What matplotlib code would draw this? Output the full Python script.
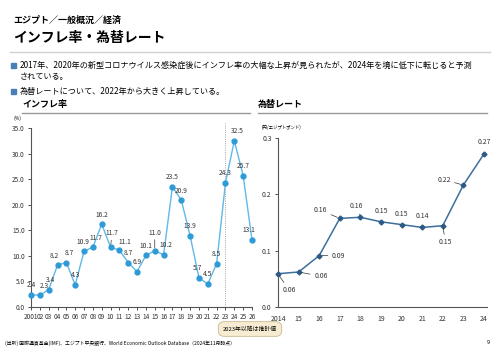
import matplotlib
matplotlib.use("Agg")
import matplotlib.pyplot as plt
from matplotlib.lines import Line2D
from matplotlib.patches import Rectangle

plt.rcParams['font.family'] = ['Noto Sans CJK JP', 'DejaVu Sans']

# インフレ率 (%)
years_inf = list(range(2001, 2027))
inflation = [2.4, 2.3, 3.4, 8.2, 8.7, 4.3, 10.9, 11.7, 16.2, 11.7, 11.1, 8.7, 6.9,
             10.1, 11.0, 10.2, 23.5, 20.9, 13.9, 5.7, 4.5, 8.5, 24.3, 32.5, 25.7, 13.1]
inf_ticklabels = ['2001'] + [f'{y % 100:02d}' for y in years_inf[1:]]

# 為替レート (円/エジプトポンド)
years_fx = list(range(2014, 2025))
fx_rate = [0.059, 0.062, 0.091, 0.157, 0.159, 0.151, 0.146, 0.141, 0.144, 0.216, 0.271]
fx_labels = ['0.06', '0.06', '0.09', '0.16', '0.16', '0.15', '0.15', '0.14', '0.15', '0.22', '0.27']
fx_ticklabels = ['2014'] + [f'{y % 100:02d}' for y in years_fx[1:]]

W, H = 500, 353
fig = plt.figure(figsize=(W / 100, H / 100), dpi=100)


def fx_(x):
    return x / W


def fy_(y):
    return 1 - y / H


# ヘッダー
fig.text(fx_(13), fy_(20), 'エジプト／一般概況／経済', fontsize=6.5, fontweight='bold', va='center')
fig.text(fx_(13), fy_(38), 'インフレ率・為替レート', fontsize=10, fontweight='bold', va='center')
fig.add_artist(Line2D([fx_(10), fx_(490)], [fy_(52), fy_(52)], color='#d0d0d0', lw=1))

bullet_c = '#4a7fb5'
for yy in (65, 91):
    fig.add_artist(Rectangle((fx_(11), fy_(yy + 3)), 5 / W, 5 / H, color=bullet_c))
fig.text(fx_(20), fy_(65), '2017年、2020年の新型コロナウイルス感染症後にインフレ率の大幅な上昇が見られたが、2024年を境に低下に転じると予測',
         fontsize=5.85, va='center')
fig.text(fx_(20), fy_(77), 'されている。', fontsize=5.85, va='center')
fig.text(fx_(20), fy_(91), '為替レートについて、2022年から大きく上昇している。', fontsize=5.85, va='center')

# セクション見出し
fig.text(fx_(22), fy_(104), 'インフレ率', fontsize=6.5, fontweight='bold', va='center')
fig.add_artist(Line2D([fx_(22), fx_(250)], [fy_(113), fy_(113)], color='#999999', lw=1))
fig.text(fx_(258), fy_(104), '為替レート', fontsize=6.5, fontweight='bold', va='center')
fig.add_artist(Line2D([fx_(258), fx_(487)], [fy_(113), fy_(113)], color='#999999', lw=1))

fig.text(fx_(13), fy_(118), '(%)', fontsize=3.5, va='center')
fig.text(fx_(262), fy_(127), '(円/エジプトポンド)', fontsize=3.2, va='center')

# ---- インフレ率 ----
ax1 = fig.add_axes([fx_(31), fy_(307), (252 - 31) / W, (307 - 128) / H])
ax1.plot(years_inf, inflation, color='#62b8e6', lw=1, marker='o', ms=3.5,
         mfc='#2e9ad6', mec='#2e9ad6', clip_on=False, zorder=3)
ax1.set_xlim(2001, 2026)
ax1.set_ylim(0, 35)
ax1.set_yticks([0, 5, 10, 15, 20, 25, 30, 35])
ax1.set_yticklabels([f'{v:.1f}' for v in [0, 5, 10, 15, 20, 25, 30, 35]])
ax1.set_xticks(years_inf)
ax1.set_xticklabels(inf_ticklabels)
ax1.tick_params(labelsize=4.7, length=2.5, width=0.6, pad=2, colors='#333333')
for s in ('top', 'right'):
    ax1.spines[s].set_visible(False)
for s in ('left', 'bottom'):
    ax1.spines[s].set_linewidth(0.8)
    ax1.spines[s].set_color('#555555')
ax1.axvline(2023, ymin=0, ymax=1.03, color='#888888', lw=0.6, ls=':', clip_on=False)

inf_off = {2001: (0, 4), 2002: (3, 4), 2003: (1, 4), 2004: (-2, 4), 2005: (2, 4),
           2006: (0, 4), 2007: (-1, 4), 2008: (2, 4), 2009: (0, 4), 2010: (1, 7),
           2011: (4, 3), 2012: (0, 4), 2013: (0, 4), 2014: (0, 4), 2015: (0, 10),
           2016: (2, 4), 2017: (0, 4), 2018: (0, 4), 2019: (0, 4), 2020: (-1, 4),
           2021: (0, 4), 2022: (0, 4), 2023: (0, 4), 2024: (2, 4), 2025: (0, 4),
           2026: (-2, 4)}
for x, v in zip(years_inf, inflation):
    dx, dy = inf_off[x]
    kw = {}
    if x in (2015, 2010):
        kw['arrowprops'] = dict(arrowstyle='-', lw=0.5, color='#333333', shrinkA=0, shrinkB=2)
    ax1.annotate(f'{v:.1f}', (x, v), xytext=(dx, dy), textcoords='offset points',
                 ha='center', va='bottom', fontsize=4.8, color='#333333', **kw)

# ---- 為替レート ----
ax2 = fig.add_axes([fx_(278), fy_(307), (487 - 278) / W, (307 - 137.7) / H])
ax2.plot(years_fx, fx_rate, color='#3d6f9c', lw=1.1, marker='D', ms=2.5,
         mfc='#2d5a85', mec='#2d5a85', clip_on=False, zorder=3)
ax2.set_xlim(2014, 2024.15)
ax2.set_ylim(0, 0.3)
ax2.set_yticks([0, 0.1, 0.2, 0.3])
ax2.set_yticklabels(['0.0', '0.1', '0.2', '0.3'])
ax2.set_xticks(years_fx)
ax2.set_xticklabels(fx_ticklabels)
ax2.tick_params(axis='y', labelsize=5, length=2.5, width=0.6, pad=2, colors='#333333')
ax2.tick_params(axis='x', labelsize=5, length=0, pad=6, colors='#333333')
for s in ('top', 'right'):
    ax2.spines[s].set_visible(False)
for s in ('left', 'bottom'):
    ax2.spines[s].set_linewidth(0.8)
    ax2.spines[s].set_color('#555555')

fx_off = [(8, -12), (16, -3), (14, 0), (-14, 6), (-3, 8), (0, 5),
          (0, 5), (0, 5), (2, -12), (-14, 4), (0, 6)]
fx_leader = [True, True, True, True, True, False, False, False, True, True, False]
for x, v, lab, off, ld in zip(years_fx, fx_rate, fx_labels, fx_off, fx_leader):
    kw = {}
    if ld:
        kw['arrowprops'] = dict(arrowstyle='-', lw=0.5, color='#333333', shrinkA=1, shrinkB=2)
    ax2.annotate(lab, (x, v), xytext=off, textcoords='offset points',
                 ha='center', va='center' if ld else 'bottom', fontsize=5,
                 color='#333333', **kw)

# 推計値の注記
fig.text(fx_(250), fy_(329), '2023年以降は推計値', fontsize=4.2, ha='center', va='center',
         bbox=dict(boxstyle='round,pad=0.8,rounding_size=1.0', fc='#f7ecd2', ec='#c9b98f', lw=0.6))

# 出所
fig.text(fx_(5), fy_(343), '(出所) 国際通貨基金(IMF)、エジプト中央銀行、World Economic Outlook Database（2024年11月時点）',
         fontsize=3.5, va='center')
fig.text(fx_(490), fy_(343), '9', fontsize=4, va='center', ha='right')

fig.savefig('out.png', dpi=100)
